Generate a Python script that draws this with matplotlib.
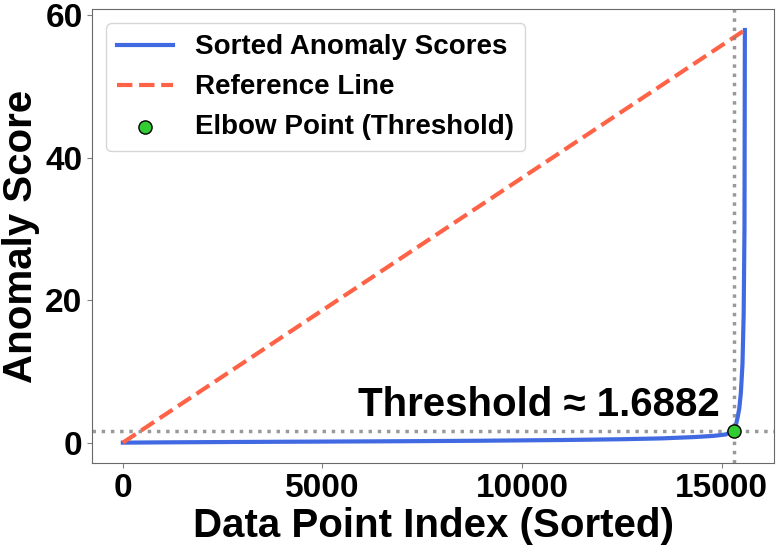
import matplotlib.pyplot as plt

plt.rcParams['font.family'] = ['Liberation Sans', 'DejaVu Sans']
plt.rcParams['font.weight'] = 'bold'

# sorted anomaly scores at a few indices
idx = [0, 1000, 3000, 5000, 7000, 9000, 11000, 12500, 13500, 14300, 14800,
       15100, 15310, 15360, 15400, 15440, 15480, 15520, 15550, 15570, 15580]
scores = [0.0, 0.04, 0.1, 0.15, 0.2, 0.27, 0.37, 0.48, 0.6, 0.78, 0.95,
          1.15, 1.6882, 2.6, 3.6, 4.8, 7.0, 11.0, 18.0, 30.0, 57.9]

elbow_idx = 15310
threshold = 1.6882

fig, ax = plt.subplots(figsize=(7.79, 5.5), dpi=100)
fig.subplots_adjust(left=0.1185, right=0.9936, bottom=0.1576, top=0.983)

ax.plot(idx, scores, color='royalblue', lw=3, label='Sorted Anomaly Scores')
ax.plot([idx[0], idx[-1]], [scores[0], scores[-1]], color='tomato', ls='--', lw=3,
        label='Reference Line')
ax.axvline(elbow_idx, color='gray', ls=':', lw=2.5, alpha=0.8)
ax.axhline(threshold, color='gray', ls=':', lw=2.5, alpha=0.8)
ax.scatter([elbow_idx], [threshold], s=90, color='limegreen', edgecolor='black',
           zorder=5, label='Elbow Point (Threshold)')
ax.text(elbow_idx - 350, threshold + 2.1, f'Threshold \u2248 {threshold:.4f}',
        ha='right', va='baseline', fontsize=29, fontweight='bold')

ax.set_xlim(-765, 16310)
ax.set_ylim(-2.9, 60.8)
ax.set_xticks([0, 5000, 10000, 15000])
ax.set_yticks([0, 20, 40, 60])
ax.set_xlabel('Data Point Index (Sorted)', fontsize=29, fontweight='bold', labelpad=2)
ax.set_ylabel('Anomaly Score', fontsize=29, fontweight='bold', labelpad=4)
ax.tick_params(labelsize=24, colors='black')
ax.tick_params(color='gray')
for lab in ax.get_xticklabels() + ax.get_yticklabels():
    lab.set_fontweight('bold')
for s in ax.spines.values():
    s.set_color('dimgray')

leg = ax.legend(loc='upper left', fontsize=20)
for t in leg.get_texts():
    t.set_fontweight('bold')

plt.savefig('out.png', dpi=100)
